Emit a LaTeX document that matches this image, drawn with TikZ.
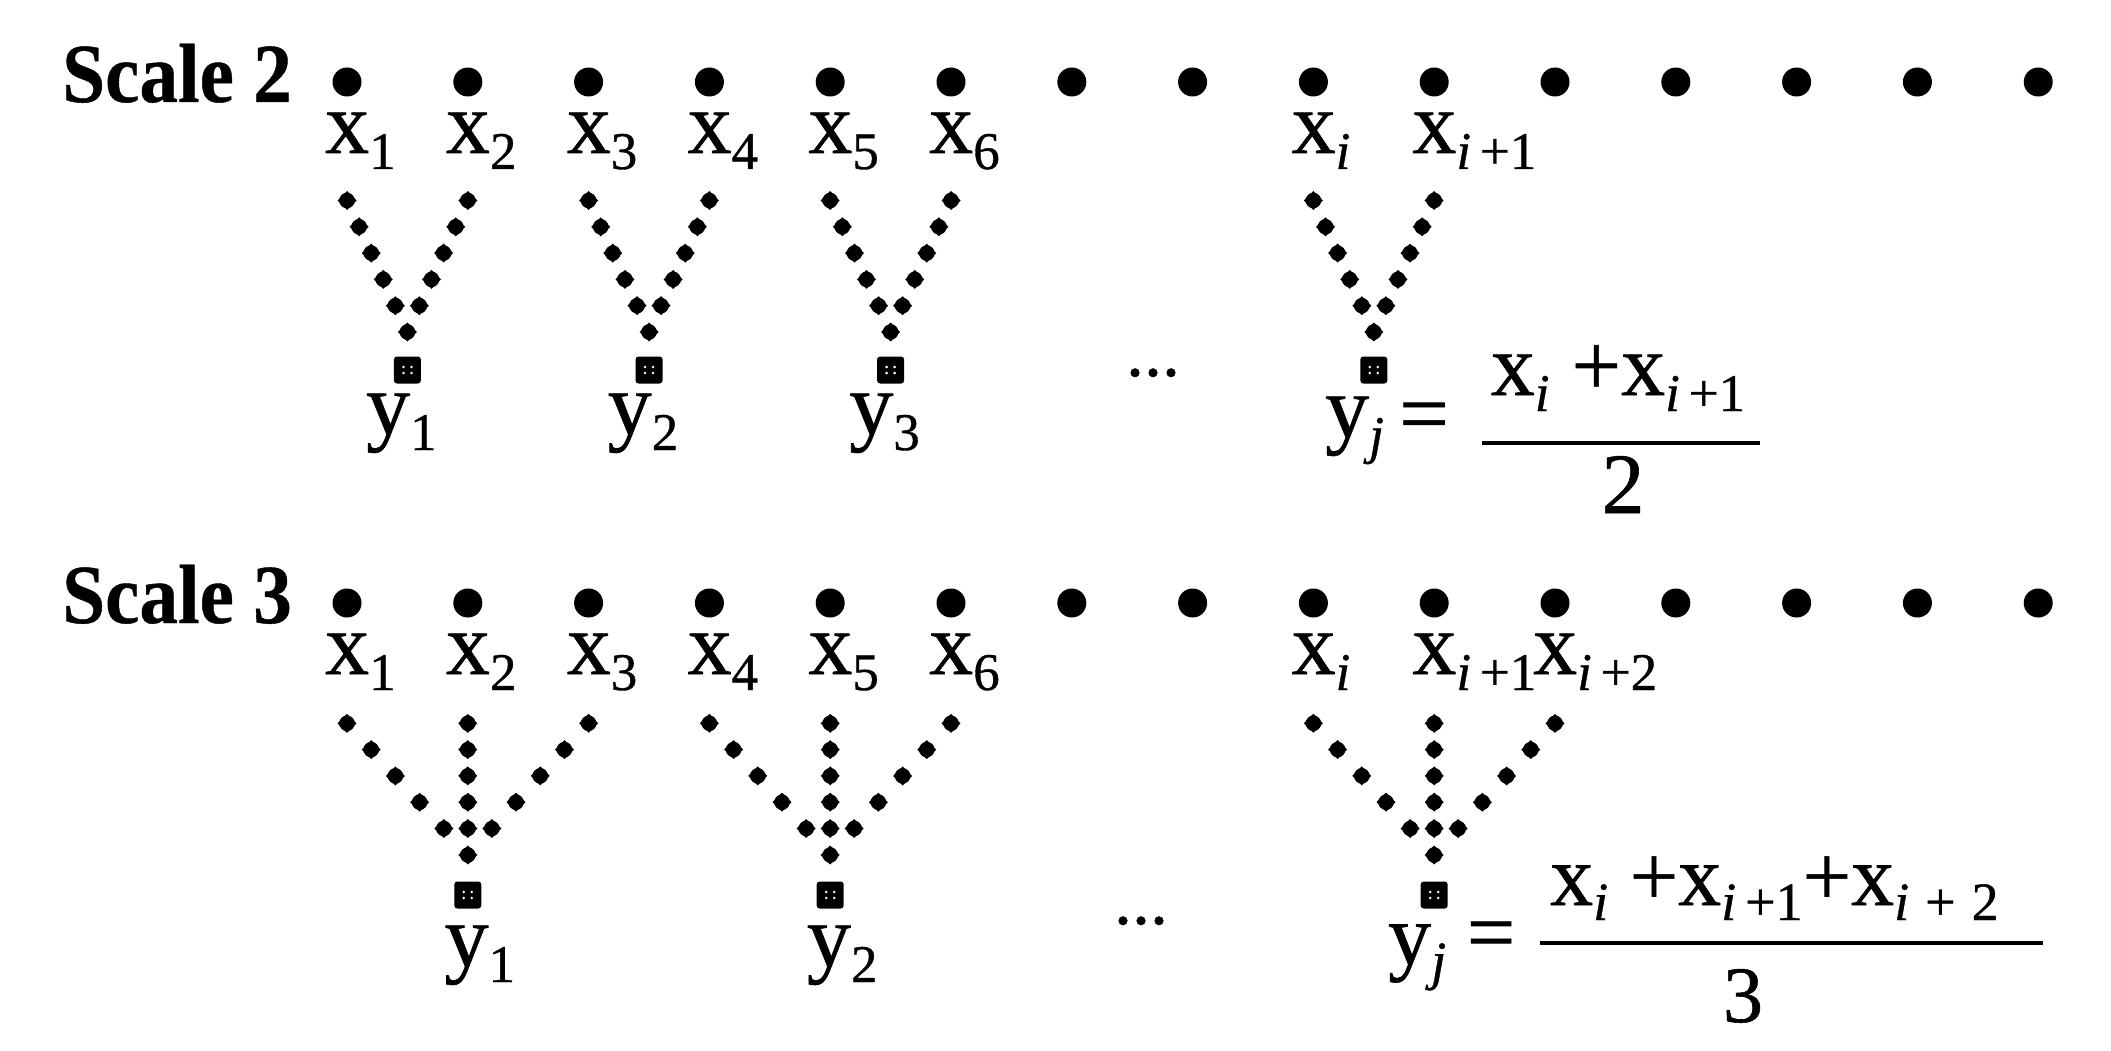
\documentclass[tikz,border=0pt]{standalone}
\usepackage{fontspec}
\setmainfont{Liberation Serif}
\newfontfamily\heavy{Liberation Serif}[FakeBold=0.7]
\newfontfamily\heavybf{Liberation Serif Bold}[FakeBold=0.5]
\newcommand\mysub[1]{\raisebox{-16pt}{\fontsize{53}{53}\selectfont #1}}
\newcommand\mysubb[1]{\raisebox{-15pt}{\fontsize{54}{54}\selectfont #1}}
\newcommand\ivar{\textit{i}}
\newcommand\jvar{\textit{j}}
\newcommand\ipo{\textit{i}\,+1}
\newcommand\ipt{\textit{i}\,+2}
\newcommand\iptt{\textit{i}\hspace{16pt}+\hspace{16pt}2}
\tikzset{
  bigdot/.style={circle,fill=black,inner sep=0pt,minimum size=29pt},
  lab/.style={inner sep=0pt,font=\heavy\fontsize{88}{100}\selectfont},
  labf/.style={inner sep=0pt,font=\heavy\fontsize{86}{90}\selectfont},
  scalelab/.style={inner sep=0pt,font=\heavybf\fontsize{84}{90}\selectfont,xscale=0.92},
  sq/.style={fill=black,inner sep=0pt,minimum size=27pt,rounded corners=3pt,
    path picture={\fill[white] (path picture bounding box.center) ++(-4pt,-3pt) circle (1.4pt) ++(8pt,0pt) circle (1.4pt) ++(0pt,6pt) circle (1.4pt) ++(-8pt,0pt) circle (1.4pt);}},
  vd/.pic={\fill (0,0) circle (7.8pt); \fill (0,-9.5)--(9.5,0)--(0,9.5)--(-9.5,0)--cycle;},
  fracbar/.style={line width=4pt},
  ell/.style={inner sep=0pt,font=\heavy\fontsize{72}{72}\selectfont,anchor=base}
}
\begin{document}
\begin{tikzpicture}[x=1pt,y=-1pt]
\useasboundingbox (0,0) rectangle (2111,1051);
\node[scalelab,anchor=base west] (s2) at (62,102) {Scale 2};
\node[scalelab,anchor=base west] (s3) at (62,623) {Scale 3};
\foreach \k in {0,...,14}{
  \pgfmathsetmacro\xx{347+120.8*\k}
  \node[bigdot] (a\k) at (\xx,82) {};
  \node[bigdot] (b\k) at (\xx,603) {};
}
% labels scale 2
\foreach \k/\s in {0/1,1/2,2/3,3/4,4/5,5/6,8/\ivar,9/\ipo}{
  \pgfmathsetmacro\xx{347+120.8*\k-22}
  \node[lab,anchor=base west] (xa\k) at (\xx,153) {x\mysub{\s}};
}
% labels scale 3
\foreach \k/\s in {0/1,1/2,2/3,3/4,4/5,5/6,8/\ivar,9/\ipo,10/\ipt}{
  \pgfmathsetmacro\xx{347+120.8*\k-22}
  \node[lab,anchor=base west] (xb\k) at (\xx,674) {x\mysub{\s}};
}
% scale 2 trees
\foreach \L/\n in {0/1,2/2,4/3,8/j}{
  \pgfmathsetmacro\cx{347+120.8*\L+60.4}
  \foreach \r in {0,...,4}{
    \pgfmathsetmacro\off{60.4-12.1*\r}
    \pgfmathsetmacro\yy{200.5+26.3*\r}
    \pic at (\cx-\off,\yy) {vd};
    \pic at (\cx+\off,\yy) {vd};
  }
  \pic at (\cx,332) {vd};
  \node[sq] (ya\n) at (\cx,370) {};
}
\foreach \L/\n in {0/1,2/2,4/3}{
  \pgfmathsetmacro\cx{347+120.8*\L+60.4-6}
  \node[lab,anchor=base] (yla\n) at (\cx,434) {y\mysub{\n}};
}
% scale 3 trees
\foreach \C/\n in {1/1,4/2,9/j}{
  \pgfmathsetmacro\cx{347+120.8*\C}
  \foreach \r in {0,...,3}{
    \pgfmathsetmacro\off{120.8-24.2*\r}
    \pgfmathsetmacro\yy{723.3+26.3*\r}
    \pic at (\cx-\off,\yy) {vd};
    \pic at (\cx,\yy) {vd};
    \pic at (\cx+\off,\yy) {vd};
  }
  \pic at (\cx-24,828.5) {vd};
  \pic at (\cx,828.5) {vd};
  \pic at (\cx+24,828.5) {vd};
  \pic at (\cx,855) {vd};
  \node[sq] (yb\n) at (\cx,895) {};
}
\foreach \C/\n in {1/1,4/2}{
  \pgfmathsetmacro\cx{347+120.8*\C+12}
  \node[lab,anchor=base] (ylb\n) at (\cx,966) {y\mysub{\n}};
}
% ellipses
\node[ell] (e2) at (1153,376) {...};
\node[ell] (e3) at (1141,924) {...};
% formula scale 2
\node[lab,anchor=base west] (yj2) at (1325,437) {y\mysub{\jvar}};
\node[lab,anchor=base] (eq2) at (1424,443) {=};
\node[lab,anchor=base] (num2) at (1618,395) {x\mysub{\ivar} +x\mysub{\ipo}};
\coordinate (b2l) at (1482,443);
\coordinate (b2r) at (1760,443);
\draw[fracbar] (b2l) -- (b2r);
\node[inner sep=0pt,font=\heavy\fontsize{86}{90}\selectfont,anchor=base] (den2) at (1623,513) {2};
% formula scale 3
\node[labf,anchor=base west] (yj3) at (1388,964) {y\mysubb{\jvar}};
\node[labf,anchor=base] (eq3) at (1491,961) {=};
\node[labf,anchor=base west] (num3) at (1550,905) {x\mysubb{\ivar} +x\mysubb{\ipo}+x\mysubb{\iptt}};
\coordinate (b3l) at (1540,943);
\coordinate (b3r) at (2043,943);
\draw[fracbar] (b3l) -- (b3r);
\node[inner sep=0pt,font=\heavy\fontsize{80}{90}\selectfont,anchor=base] (den3) at (1743,1022) {3};
\end{tikzpicture}
\end{document}
